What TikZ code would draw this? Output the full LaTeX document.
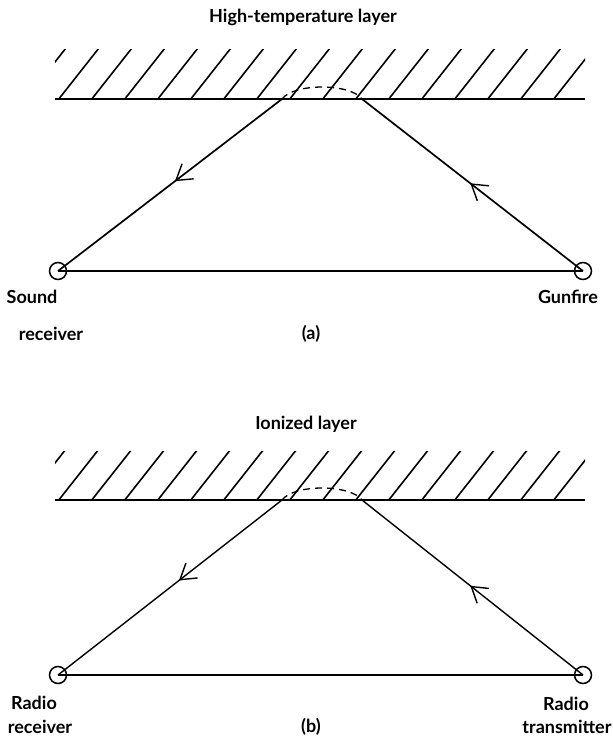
\documentclass[tikz,border=0pt]{standalone}
\usepackage{fontspec}
\setmainfont{Lato}
\usetikzlibrary{arrows.meta,decorations.markings}
\tikzset{
  ray/.style={line width=1.7pt},
  rayb/.style={line width=1.4pt},
  station/.style={circle,draw,line width=1.5pt,minimum size=17pt,inner sep=0pt},
  lbl/.style={font=\fontsize{18}{21}\selectfont\bfseries,inner sep=0pt},
  hatchline/.style={line width=1.6pt},
  midarrow/.style={postaction={decorate},decoration={markings,mark=at position #1 with {\arrow{Straight Barb[length=15pt,width=19pt,line width=1.4pt]}}}},
  bendpath/.style={dash pattern=on 7pt off 5pt, line width=1.3pt}
}
\begin{document}
\begin{tikzpicture}[x=1pt,y=-1pt]
\useasboundingbox (0,0) rectangle (613,740);
% ---------- panel (a)
\node[lbl] (tita) at (303,17) {High-temperature layer};
\begin{scope}
  \clip (55,49) rectangle (585,99);
  \foreach \k in {-1,...,16} \draw[hatchline] (58+33*\k,100) -- ++(41,-52);
\end{scope}
\coordinate (la1) at (55,99);
\coordinate (la2) at (585,99);
\draw[ray] (la1) -- (la2);
\coordinate (pa1) at (282,99);
\coordinate (pa2) at (362,99);
\node[station] (ra) at (58,271) {};
\node[station] (ga) at (583,271) {};
\draw[ray,midarrow=0.478] (pa1) -- (ra.center);
\draw[ray,midarrow=0.51] (ga.center) -- (pa2);
\draw[ray] (ra.center) -- (ga.center);
\draw[bendpath] (pa1) .. controls (294,83) and (350,83) .. (pa2);
\node[lbl] (sound) at (32,297) {Sound};
\node[lbl] (recva) at (51,334) {receiver};
\node[lbl] (capa) at (311,334) {(a)};
\node[lbl] (gun) at (568,297) {Gunfire};
% ---------- panel (b)
\node[lbl] (titb) at (306,424) {Ionized layer};
\begin{scope}
  \clip (55,451) rectangle (585,500);
  \foreach \k in {-1,...,16} \draw[hatchline] (58+33*\k,501) -- ++(41,-52);
\end{scope}
\coordinate (lb1) at (55,500);
\coordinate (lb2) at (585,500);
\draw[ray] (lb1) -- (lb2);
\coordinate (pb1) at (282,500);
\coordinate (pb2) at (362,500);
\node[station] (rb) at (58,675) {};
\node[station] (tb) at (583,675) {};
\draw[rayb,midarrow=0.46] (pb1) -- (rb.center);
\draw[rayb,midarrow=0.51] (tb.center) -- (pb2);
\draw[rayb] (rb.center) -- (tb.center);
\draw[bendpath] (pb1) .. controls (294,484) and (350,484) .. (pb2);
\node[lbl] (radl) at (34,703) {Radio};
\node[lbl] (recvb) at (40,727) {receiver};
\node[lbl] (capb) at (311,727) {(b)};
\node[lbl] (radr) at (566,704) {Radio};
\node[lbl] (trans) at (567,727) {transmitter};
\end{tikzpicture}
\end{document}
